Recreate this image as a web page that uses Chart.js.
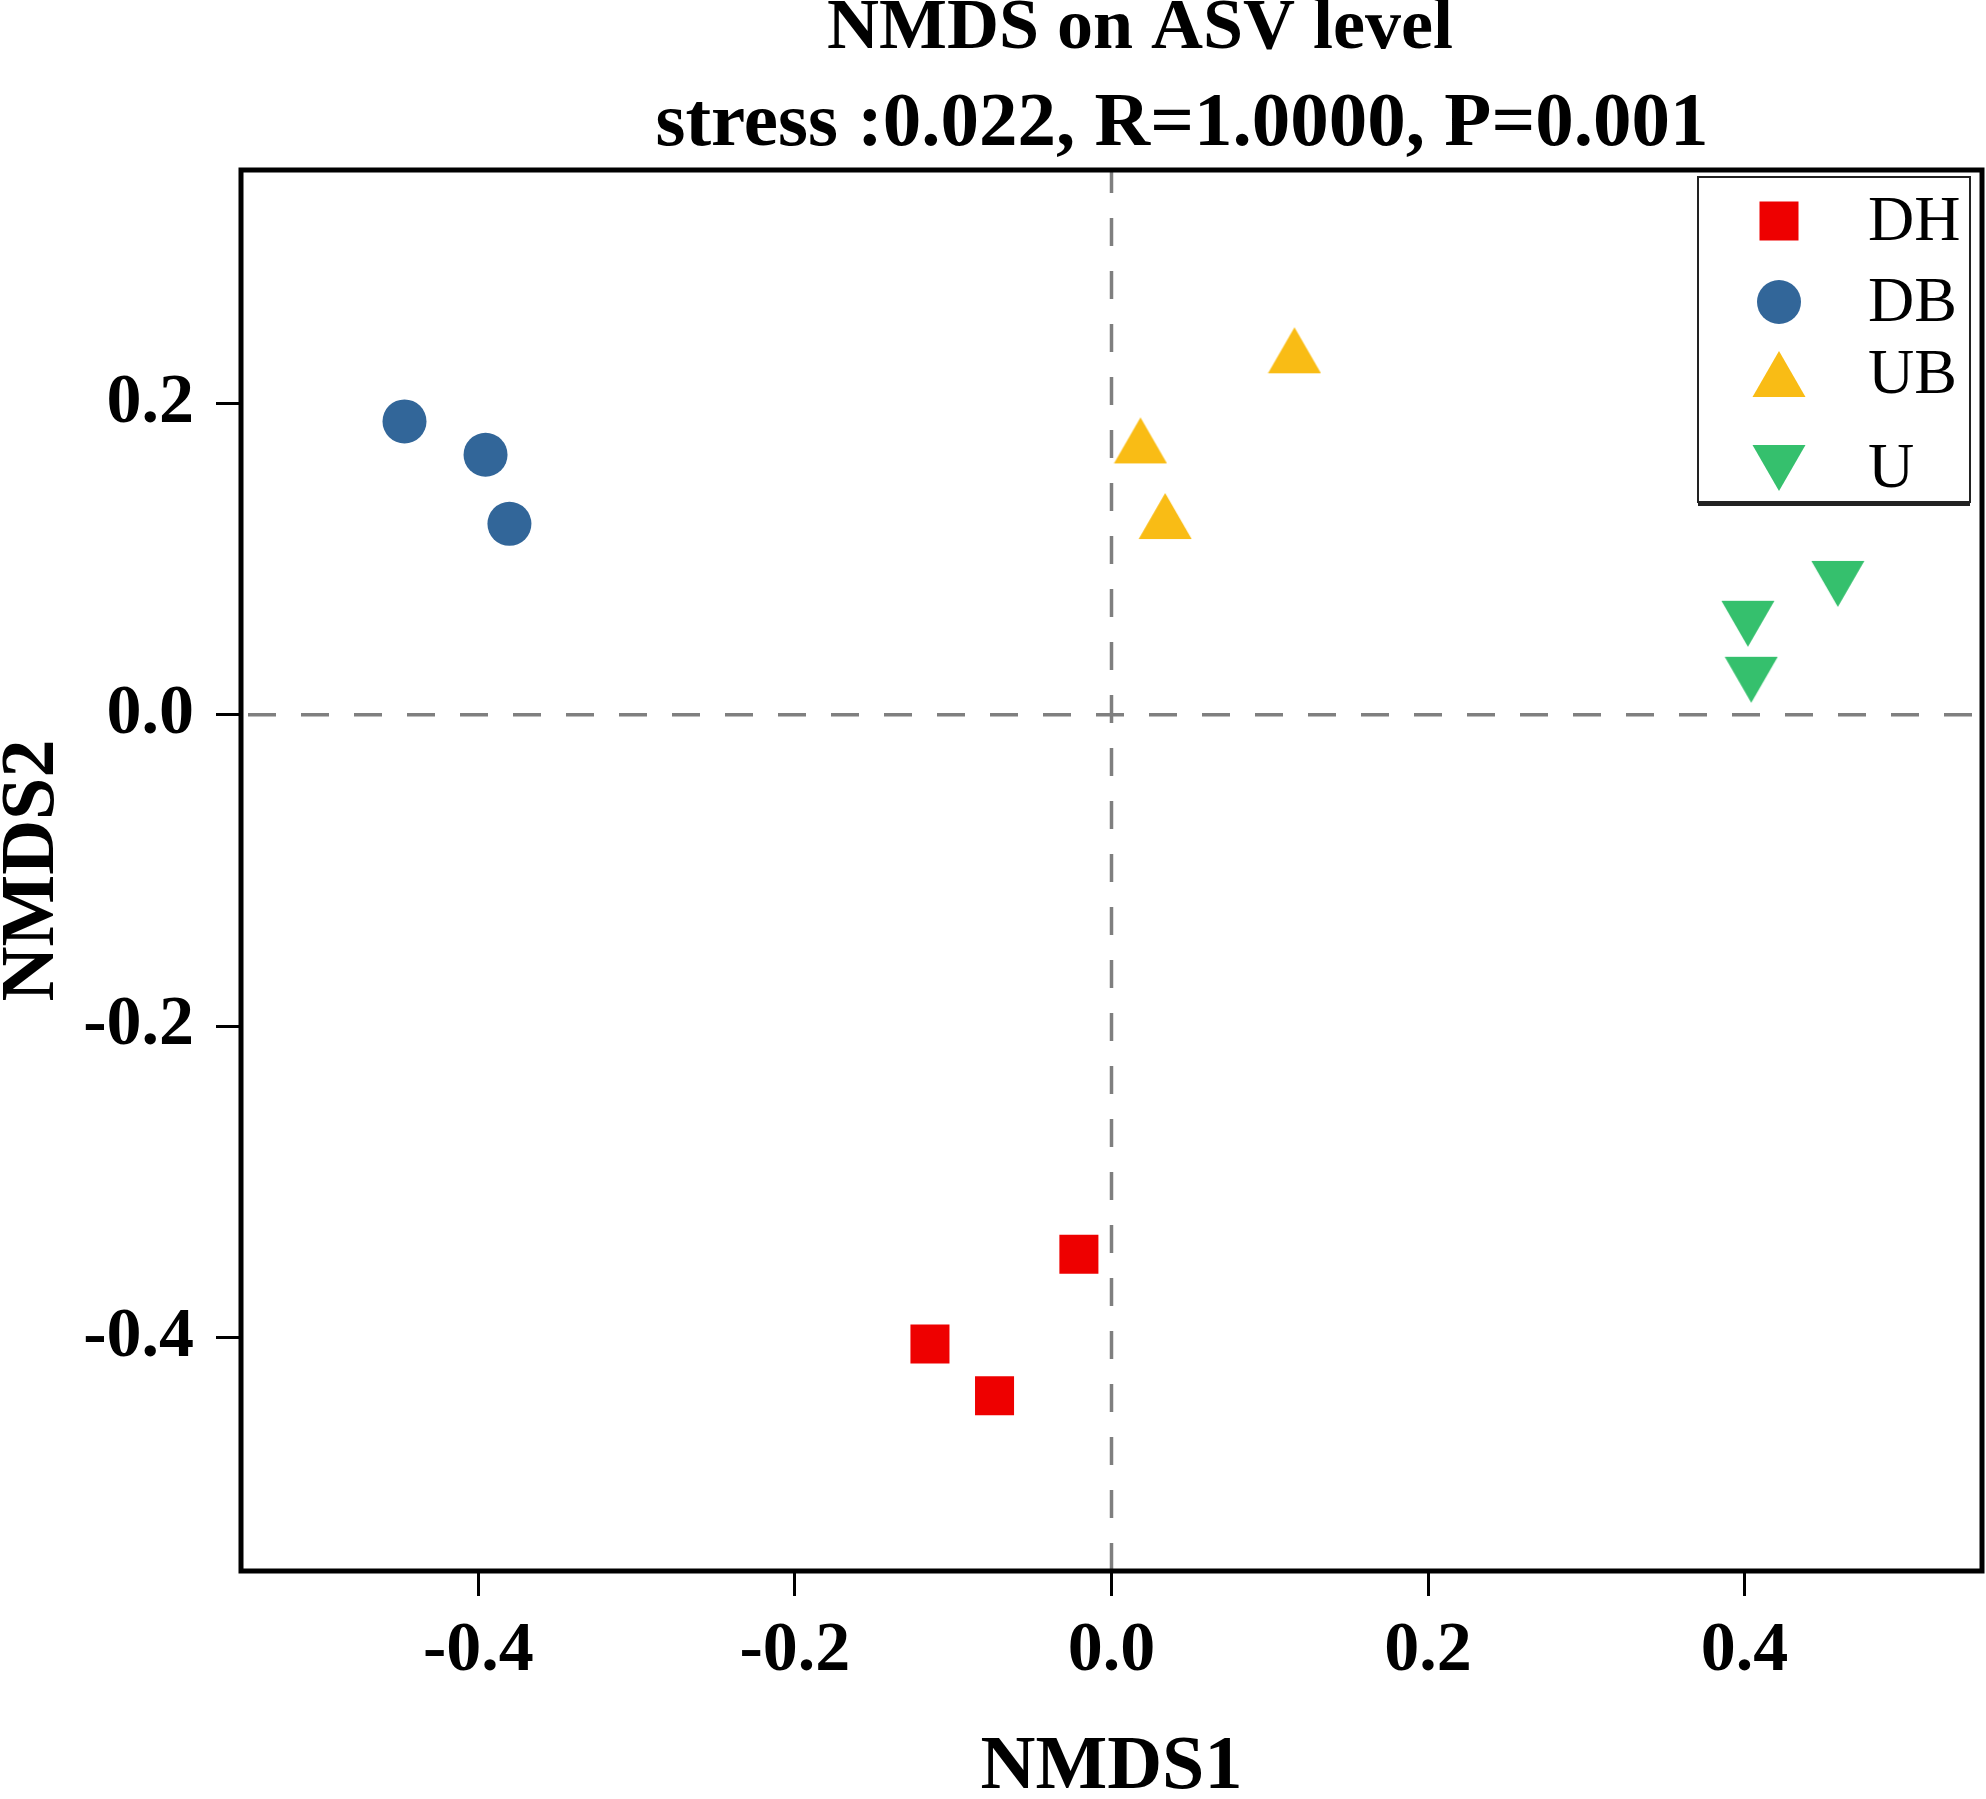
<!DOCTYPE html>
<html>
<head>
<meta charset="utf-8">
<title>NMDS on ASV level</title>
<script src="https://cdn.jsdelivr.net/npm/chart.js@4.4.1/dist/chart.umd.min.js"></script>
<style>
  html, body { margin: 0; padding: 0; background: #fff; }
  #nmds-chart { display: block; }
</style>
</head>
<body>
<canvas id="nmds-chart" width="1986" height="1799"></canvas>
<script>
// groups, in legend order
const groups = ["DH", "DB", "UB", "U"];

// sample coordinates
const dhX = [-0.0206, -0.1147, -0.0739];
const dhY = [-0.3465, -0.4042, -0.4374];
const dbX = [-0.4467, -0.3955, -0.3804];
const dbY = [0.1885, 0.1671, 0.1227];
const ubX = [0.1156, 0.0183, 0.0339];
const ubY = [0.2342, 0.1763, 0.1277];
const uX = [0.4589, 0.4021, 0.4042];
const uY = [0.0841, 0.0585, 0.0225];

const xTicks = [-0.4, -0.2, 0.0, 0.2, 0.4];
const yTicks = [-0.4, -0.2, 0.0, 0.2];

const titleLines = ["NMDS on ASV level", "stress :0.022, R=1.0000, P=0.001"];

const SERIF = '"Liberation Serif", "Times New Roman", serif';

function makeTriangle(color, down) {
  const c = document.createElement("canvas");
  c.width = 54;
  c.height = 48;
  const ctx = c.getContext("2d");
  ctx.fillStyle = color;
  ctx.beginPath();
  if (down) {
    ctx.moveTo(0.5, 1);
    ctx.lineTo(53.5, 1);
    ctx.lineTo(27, 47);
  } else {
    ctx.moveTo(27, 1);
    ctx.lineTo(53.5, 47);
    ctx.lineTo(0.5, 47);
  }
  ctx.closePath();
  ctx.fill();
  return c;
}

function toPoints(xs, ys) {
  return xs.map((x, i) => ({ x, y: ys[i] }));
}

const colors = ["#ee0000", "#326699", "#f9bc15", "#35c06d"];
const styles = ["rect", "circle", makeTriangle(colors[2], false), makeTriangle(colors[3], true)];
const radii = [27.6, 22, 27, 27];
const series = [toPoints(dhX, dhY), toPoints(dbX, dbY), toPoints(ubX, ubY), toPoints(uX, uY)];

const datasets = groups.map((g, i) => ({
  label: g,
  data: series[i],
  pointStyle: styles[i],
  pointRadius: radii[i],
  pointHoverRadius: radii[i],
  backgroundColor: colors[i],
  borderColor: colors[i],
  borderWidth: 0,
  pointBorderWidth: 0,
}));

// dashed zero lines, drawn under the markers
const zeroLines = {
  id: "zeroLines",
  beforeDatasetsDraw(chart) {
    const { ctx, chartArea: a, scales } = chart;
    const x0 = scales.x.getPixelForValue(0);
    const y0 = scales.y.getPixelForValue(0);
    ctx.save();
    ctx.strokeStyle = "#7f7f7f";
    ctx.lineWidth = 3.5;
    ctx.setLineDash([28, 25]);
    ctx.lineDashOffset = 0;
    ctx.beginPath();
    ctx.moveTo(x0, a.bottom);
    ctx.lineTo(x0, a.top);
    ctx.stroke();
    ctx.lineDashOffset = 46;
    ctx.beginPath();
    ctx.moveTo(a.left, y0);
    ctx.lineTo(a.right, y0);
    ctx.stroke();
    ctx.restore();
  },
};

// full box frame, legend and the two title lines
const decorations = {
  id: "decorations",
  afterDraw(chart) {
    const { ctx, chartArea: a } = chart;
    ctx.save();

    ctx.strokeStyle = "#000";
    ctx.lineWidth = 5;
    ctx.setLineDash([]);
    ctx.strokeRect(a.left, a.top, a.right - a.left, a.bottom - a.top);

    // legend box
    const lx = 1698, ly = 177, lw = 272, lh = 325;
    ctx.fillStyle = "#fff";
    ctx.fillRect(lx, ly, lw, lh);
    ctx.strokeStyle = "#222";
    ctx.lineWidth = 2;
    ctx.strokeRect(lx, ly, lw, lh);
    ctx.lineWidth = 5;
    ctx.beginPath();
    ctx.moveTo(lx, ly + lh + 1.5);
    ctx.lineTo(lx + lw, ly + lh + 1.5);
    ctx.stroke();

    const rowY = [221, 302, 374, 468];
    ctx.font = `64px ${SERIF}`;
    ctx.textBaseline = "middle";
    ctx.textAlign = "left";
    chart.data.datasets.forEach((ds, i) => {
      const cx = 1779, cy = rowY[i];
      ctx.fillStyle = ds.backgroundColor;
      if (ds.pointStyle === "rect") {
        ctx.fillRect(cx - 19.5, cy - 19.5, 39, 39);
      } else if (ds.pointStyle === "circle") {
        ctx.beginPath();
        ctx.arc(cx, cy, 22, 0, Math.PI * 2);
        ctx.fill();
      } else {
        const img = ds.pointStyle;
        ctx.drawImage(img, cx - img.width / 2, cy - img.height / 2);
      }
      ctx.fillStyle = "#000";
      ctx.fillText(ds.label, 1868, cy + 2);
    });

    ctx.fillStyle = "#000";
    ctx.textAlign = "center";
    ctx.textBaseline = "alphabetic";
    ctx.font = `bold 72px ${SERIF}`;
    ctx.fillText(titleLines[0], 1140, 48);
    ctx.font = `bold 77px ${SERIF}`;
    ctx.fillText(titleLines[1], 1182, 145);

    ctx.restore();
  },
};

const tickFont = { family: SERIF, size: 70, weight: "bold" };
const labelFont = { family: SERIF, size: 76, weight: "bold", lineHeight: 0.8 };

new Chart(document.getElementById("nmds-chart"), {
  type: "scatter",
  data: { datasets },
  options: {
    responsive: false,
    devicePixelRatio: 1,
    animation: false,
    events: [],
    layout: { autoPadding: false, padding: { top: 170, right: 4, bottom: 0, left: 0 } },
    plugins: {
      legend: { display: false },
      title: { display: false },
      tooltip: { enabled: false },
    },
    scales: {
      x: {
        type: "linear",
        min: -0.55,
        max: 0.55,
        afterBuildTicks: (s) => { s.ticks = xTicks.map((v) => ({ value: v })); },
        afterFit: (s) => {
          s.height = 228;
          s.paddingLeft = 0;
          s.paddingRight = 0;
        },
        border: { display: false },
        grid: {
          drawOnChartArea: false,
          drawTicks: true,
          tickLength: 25,
          tickWidth: 3,
          tickColor: "#000",
        },
        ticks: {
          color: "#000",
          font: tickFont,
          padding: 14,
          maxRotation: 0,
          callback: (v) => Number(v).toFixed(1),
        },
        title: {
          display: true,
          text: "NMDS1",
          color: "#000",
          font: labelFont,
          padding: { top: 0, bottom: 0 },
        },
      },
      y: {
        type: "linear",
        min: -0.55,
        max: 0.35,
        afterBuildTicks: (s) => { s.ticks = yTicks.map((v) => ({ value: v })); },
        afterFit: (s) => {
          s.width = 241;
          s.paddingTop = 0;
          s.paddingBottom = 0;
        },
        border: { display: false },
        grid: {
          drawOnChartArea: false,
          drawTicks: true,
          tickLength: 25,
          tickWidth: 3,
          tickColor: "#000",
        },
        ticks: {
          color: "#000",
          font: tickFont,
          padding: 22,
          callback: (v) => Number(v).toFixed(1),
        },
        title: {
          display: true,
          text: "NMDS2",
          color: "#000",
          font: labelFont,
          padding: { top: 3, bottom: 0 },
        },
      },
    },
  },
  plugins: [zeroLines, decorations],
});
</script>
</body>
</html>
